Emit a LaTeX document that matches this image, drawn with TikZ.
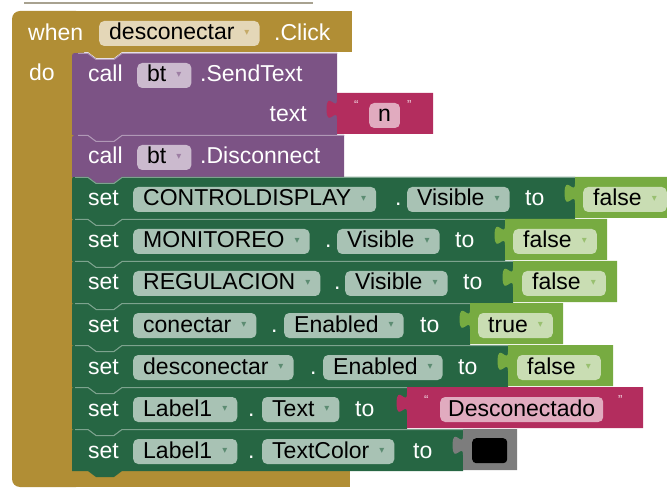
\documentclass[tikz,border=0pt]{standalone}
\usepackage{fontspec}
\setmainfont{Liberation Sans}
\newfontfamily\arrowfont{DejaVu Sans}
\usepackage{tikz}
\usepackage{xcolor}
\definecolor{evgold}{HTML}{B18E35}
\definecolor{mpurple}{HTML}{7C5385}
\definecolor{setgreen}{HTML}{266643}
\definecolor{logicgreen}{HTML}{77AB41}
\definecolor{txtpink}{HTML}{B32D5E}
\definecolor{colgray}{HTML}{7D7D7D}
\definecolor{rulegray}{HTML}{A8A290}
\newcommand{\ddarr}[1]{\hspace{10pt}\raisebox{4.5pt}{\arrowfont\fontsize{10}{10}\selectfont\textcolor{#1!75!white}{▾}}}

\begin{document}
\begin{tikzpicture}[x=1pt, y=-1pt,
    txt/.style={anchor=base west, inner sep=0pt, text=white, font={\fontsize{23}{27}\selectfont}},
    pill/.style={anchor=base west, rounded corners=5pt, inner xsep=10pt, inner ysep=1.5pt,
        text height=17.5pt, text depth=4.5pt, text=black, font={\fontsize{23}{27}\selectfont}},
    qmark/.style={anchor=base west, inner sep=0pt, text=white!80!txtpink, font={\fontsize{13}{13}\selectfont}},
    hilite/.style={line width=1pt}]
\useasboundingbox (0,0) rectangle (667,489);
\draw[rulegray, line width=1.5pt] (24,3) -- (313,3);

% Event block
\fill[evgold, rounded corners=8pt] (12,11) rectangle (84,487);
\fill[evgold] (40,11) rectangle (352,52);
\fill[evgold] (40,471) rectangle (350,487);
\fill[evgold] (88,52) -- (96,58) -- (114,58) -- (122,52) -- cycle;
\node[txt] (when) at (28,41) {when};
\node[pill, fill=evgold!35!white] (evcomp) at (99,40) {desconectar\ddarr{evgold}};
\node[txt] (click) at (274,41) {.Click};
\node[txt] (do) at (29,81) {do};

% Method calls
\foreach \yt/\yb/\xr in {53/135/337, 135/177/344} {
    \fill[mpurple] (72,\yb) -- (72,\yt+6) .. controls (72,\yt) .. (78,\yt) -- (88,\yt) -- (96,\yt+6) -- (114,\yt+6) -- (122,\yt)
        -- (\xr,\yt) -- (\xr,\yb) -- (122,\yb) -- (114,\yb+6) -- (96,\yb+6) -- (88,\yb) -- cycle;
    \draw[mpurple!60!white, hilite] (78,\yt+0.5) -- (88,\yt+0.5) -- (96,\yt+6.5) -- (114,\yt+6.5) -- (122,\yt+0.5) -- (\xr,\yt+0.5);
}
\node[txt] (call1) at (88,82) {call};
\node[pill, fill=mpurple!40!white] (bt1) at (137,82) {bt\ddarr{mpurple}};
\node[txt] (send) at (200,82) {.SendText};
\node[txt, anchor=base east] (textin) at (307,122) {text};
\node[txt] (call2) at (88,164) {call};
\node[pill, fill=mpurple!40!white] (bt2) at (137,164) {bt\ddarr{mpurple}};
\node[txt] (disc) at (200,164) {.Disconnect};

% Setters
\foreach \yt/\comp/\dx/\prop/\px/\tx/\xr in {177/CONTROLDISPLAY/395/Visible/407/525/575,
        219/MONITOREO/325/Visible/337/455/505, 261/REGULACION/334/Visible/345/463/513,
        303/conectar/271/Enabled/284/420/470, 345/desconectar/310/Enabled/323/458/508,
        387/Label1/248/Text/262/355/407, 429/Label1/248/TextColor/262/413/463} {
    \fill[setgreen] (72,\yt+42) -- (72,\yt+3) .. controls (72,\yt) .. (75,\yt) -- (88,\yt) -- (96,\yt+6) -- (114,\yt+6) -- (122,\yt)
        -- (\xr,\yt) -- (\xr,\yt+42) -- (122,\yt+42) -- (114,\yt+48) -- (96,\yt+48) -- (88,\yt+42) -- cycle;
    \draw[setgreen!60!white, hilite] (75,\yt+0.5) -- (88,\yt+0.5) -- (96,\yt+6.5) -- (114,\yt+6.5) -- (122,\yt+0.5) -- (\xr,\yt+0.5);
    \node[txt] (set\yt) at (88,\yt+29) {set};
    \node[pill, fill=setgreen!40!white] (comp\yt) at (133,\yt+29) {\comp\ddarr{setgreen}};
    \node[txt] (dot\yt) at (\dx,\yt+29) {.};
    \node[pill, fill=setgreen!40!white] (prop\yt) at (\px,\yt+29) {\prop\ddarr{setgreen}};
    \node[txt] (to\yt) at (\tx,\yt+29) {to};
}

% Value blocks
\foreach \xa/\yt/\xe/\col in {575/177/672/logicgreen, 505/219/607/logicgreen, 513/261/617/logicgreen,
        470/303/563/logicgreen, 508/345/613/logicgreen, 407/387/643/txtpink, 463/429/517/colgray, 337/93/433/txtpink} {
    \fill[\col] (\xa,\yt) -- (\xe,\yt) -- (\xe,\yt+41) -- (\xa,\yt+41) -- (\xa,\yt+26)
        .. controls (\xa,\yt+13) and (\xa-10.4,\yt+36.4) .. (\xa-10.4,\yt+16.25)
        .. controls (\xa-10.4,\yt-3.9) and (\xa,\yt+19.5) .. (\xa,\yt+6.5) -- cycle;
}
\foreach \xa/\yt/\val in {583/177/false, 513/219/false, 522/261/false, 478/303/true, 517/345/false}
    \node[pill, fill=logicgreen!40!white] (val\yt) at (\xa,\yt+29) {\val\ddarr{logicgreen}};
\node[qmark] (nq1) at (354,110) {“};
\node[pill, fill=txtpink!40!white, inner xsep=9pt] (nval) at (369,122) {n};
\node[qmark] (nq2) at (407,110) {”};
\node[qmark] (mq1) at (424,404) {“};
\node[pill, fill=txtpink!40!white, inner xsep=8pt] (msg) at (440,416) {Desconectado};
\node[qmark] (mq2) at (618,404) {”};
\node[fill=black, rounded corners=4pt, minimum width=35pt, minimum height=25pt, anchor=north west] (swatch) at (472,438) {};
\end{tikzpicture}
\end{document}
